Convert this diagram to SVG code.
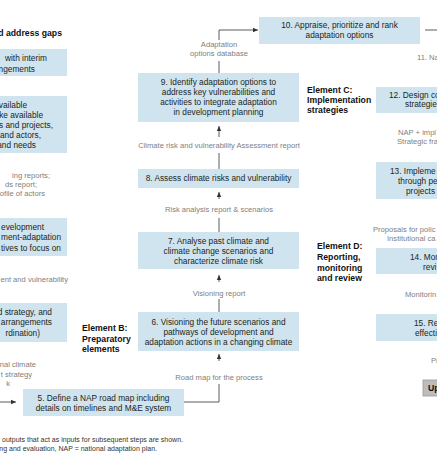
<svg xmlns="http://www.w3.org/2000/svg" width="437" height="461" viewBox="0 0 437 461">
<defs>
<marker id="ah" markerWidth="6" markerHeight="6" refX="5" refY="3" orient="auto" markerUnits="userSpaceOnUse">
<path d="M0,0.8 L5,3 L0,5.2 Z" fill="#333"/>
</marker>
<style>
.box{fill:#cfe4ef;}
.t{font-family:"Liberation Sans",Arial,sans-serif;font-size:8.3px;fill:#231f20;}
.c{text-anchor:middle;}
.e{text-anchor:end;}
.g{font-family:"Liberation Sans",Arial,sans-serif;font-size:7.6px;fill:#808080;}
.h{font-family:"Liberation Sans",Arial,sans-serif;font-size:8.7px;font-weight:bold;fill:#111;}
.f{font-family:"Liberation Sans",Arial,sans-serif;font-size:7px;fill:#333;}
.ln{fill:none;stroke:#333;stroke-width:0.8;}
</style>
</defs>
<rect width="437" height="461" fill="#fff"/>

<text class="h e" x="62" y="36">nd address gaps</text>

<g id="nodeA">
<rect class="box" x="-2" y="49" width="69" height="27"/>
<text class="t e" x="47" y="61">with interim</text>
<text class="t e" x="35" y="72">ngements</text>
</g>
<g id="nodeB">
<rect class="box" x="-2" y="96" width="69" height="57"/>
<text class="t e" x="27" y="108">vailable</text>
<text class="t e" x="43" y="118">ke available</text>
<text class="t e" x="53" y="128">s and projects,</text>
<text class="t e" x="41" y="138">and actors,</text>
<text class="t e" x="36" y="148">and needs</text>
</g>
<g id="labelsLeft1">
<text class="g e" x="50" y="178">ing reports;</text>
<text class="g e" x="37" y="187">ds report;</text>
<text class="g e" x="45" y="196">ofile of actors</text>
</g>
<g id="nodeC">
<rect class="box" x="-2" y="218" width="69" height="38"/>
<text class="t e" x="44" y="230">evelopment</text>
<text class="t e" x="61" y="240">ment-adaptation</text>
<text class="t e" x="61" y="251">tives to focus on</text>
</g>
<text class="g e" x="68" y="282">ent and vulnerability</text>
<g id="nodeD">
<rect class="box" x="-2" y="303" width="69" height="39"/>
<text class="t e" x="52" y="315">d strategy, and</text>
<text class="t e" x="52" y="325">arrangements</text>
<text class="t e" x="40" y="336">rdination)</text>
</g>
<g id="labelsLeft2">
<text class="g e" x="36" y="367">nal climate</text>
<text class="g e" x="32" y="377">t strategy</text>
<text class="g e" x="10" y="386">k</text>
</g>

<g id="node5">
<rect class="box" x="23" y="389" width="161" height="27"/>
<text class="t c" x="103.5" y="401">5. Define a NAP road map including</text>
<text class="t c" x="103.5" y="411">details on timelines and M&amp;E system</text>
</g>
<g id="node6">
<rect class="box" x="138" y="312" width="161" height="39"/>
<text class="t c" x="218.5" y="325">6. Visioning the future scenarios and</text>
<text class="t c" x="218.5" y="335">pathways of development and</text>
<text class="t c" x="218.5" y="345">adaptation actions in a changing climate</text>
</g>
<g id="node7">
<rect class="box" x="138" y="232" width="161" height="37"/>
<text class="t c" x="218.5" y="244">7. Analyse past climate and</text>
<text class="t c" x="218.5" y="254">climate change scenarios and</text>
<text class="t c" x="218.5" y="264">characterize climate risk</text>
</g>
<g id="node8">
<rect class="box" x="138" y="169" width="161" height="19"/>
<text class="t c" x="218.5" y="181">8. Assess climate risks and vulnerability</text>
</g>
<g id="node9">
<rect class="box" x="138" y="73" width="161" height="49"/>
<text class="t c" x="218.5" y="85">9. Identify adaptation options to</text>
<text class="t c" x="218.5" y="95">address key vulnerabilities and</text>
<text class="t c" x="218.5" y="105">activities to integrate adaptation</text>
<text class="t c" x="218.5" y="115">in development planning</text>
</g>
<g id="node10">
<rect class="box" x="259" y="17" width="161" height="27"/>
<text class="t c" x="339.5" y="28">10. Appraise, prioritize and rank</text>
<text class="t c" x="339.5" y="38">adaptation options</text>
</g>
<g id="node12">
<rect class="box" x="376" y="87" width="64" height="26"/>
<text class="t" x="389" y="98">12. Design co</text>
<text class="t" x="405" y="107">strategie</text>
</g>
<g id="node13">
<rect class="box" x="376" y="162" width="64" height="37"/>
<text class="t" x="390" y="174">13. Impleme</text>
<text class="t" x="398" y="184">through pe</text>
<text class="t" x="406" y="194">projects</text>
</g>
<g id="node14">
<rect class="box" x="376" y="248" width="64" height="26"/>
<text class="t" x="410" y="260">14. Moni</text>
<text class="t" x="423" y="270">revi</text>
</g>
<g id="node15">
<rect class="box" x="376" y="314" width="64" height="27"/>
<text class="t" x="414" y="326">15. Re</text>
<text class="t" x="415" y="336">effecti</text>
</g>
<g id="nodeUp">
<rect x="423" y="380" width="20" height="16" fill="#bcbcbc" stroke="#9a9a9a" stroke-width="0.8"/>
<text class="h" x="428" y="391">Up</text>
</g>

<g id="elements">
<text class="h" x="82" y="330.5">Element B:</text>
<text class="h" x="82" y="341.5">Preparatory</text>
<text class="h" x="82" y="352">elements</text>
<text class="h" x="307" y="92.5">Element C:</text>
<text class="h" x="307" y="102.5">Implementation</text>
<text class="h" x="307" y="113">strategies</text>
<text class="h" x="317" y="248.5">Element D:</text>
<text class="h" x="317" y="259.5">Reporting,</text>
<text class="h" x="317" y="270.5">monitoring</text>
<text class="h" x="317" y="281">and review</text>
</g>

<g id="connectors">
<path class="ln" d="M0,402 H16" marker-end="url(#ah)"/>
<path class="ln" d="M184,402 H219 V384"/>
<path class="ln" d="M219,361 V354" marker-end="url(#ah)"/>
<path class="ln" d="M219,312 V299"/>
<path class="ln" d="M219,282 V275" marker-end="url(#ah)"/>
<path class="ln" d="M219,232 V218"/>
<path class="ln" d="M219,199 V192" marker-end="url(#ah)"/>
<path class="ln" d="M219,169 V153"/>
<path class="ln" d="M219,137 V126" marker-end="url(#ah)"/>
<path class="ln" d="M219,73 V61"/>
<path class="ln" d="M219,40 V30 H258" marker-end="url(#ah)"/>
<path class="ln" d="M425,30 H437"/>
</g>

<g id="connectorLabels">
<text class="g c" x="219" y="380">Road map for the process</text>
<text class="g c" x="219" y="296">Visioning report</text>
<text class="g c" x="219" y="212">Risk analysis report &amp; scenarios</text>
<text class="g c" x="219" y="148">Climate risk and vulnerability Assessment report</text>
<text class="g c" x="219" y="47">Adaptation</text>
<text class="g c" x="219" y="56">options database</text>
<text class="g" x="417" y="60">11. Na</text>
<text class="g" x="398" y="135">NAP + impl</text>
<text class="g" x="397" y="144">Strategic fra</text>
<text class="g" x="373" y="232">Proposals for polic</text>
<text class="g" x="387" y="241">Institutional ca</text>
<text class="g" x="405" y="297">Monitorin</text>
<text class="g" x="431" y="363">Pr</text>
</g>

<text class="f e" x="183" y="442">r outputs that act as inputs for subsequent steps are shown.</text>
<text class="f e" x="157" y="451">ing and evaluation, NAP = national adaptation plan.</text>
</svg>
